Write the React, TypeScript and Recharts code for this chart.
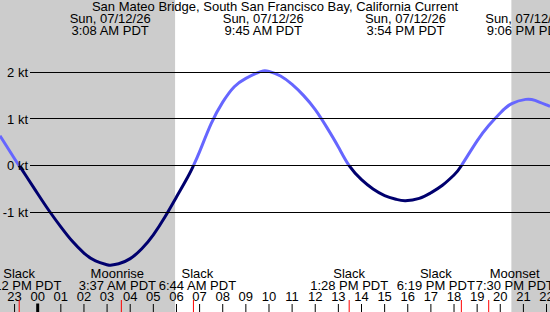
import React from "react";
import { ComposedChart, Line, XAxis, YAxis, ReferenceArea } from "recharts";

// ---- data ----
const curveHours = [
  -1.63, -1, -0.8, -0.5, 0, 0.5, 1, 1.5, 2, 2.5, 3, 3.133, 3.5, 4, 4.5, 5, 5.5, 6, 6.5, 6.733,
  7, 7.5, 8, 8.5, 9, 9.5, 9.75, 10, 10.5, 11, 11.5, 12, 12.5, 13, 13.467,
  14, 14.5, 15, 15.5, 15.9, 16.5, 17, 17.5, 18, 18.317,
  19, 19.5, 20, 20.5, 21.1, 21.5, 22, 22.15,
];
const curveKnots = [
  0.64, 0.15, 0, -0.22, -0.6, -0.97, -1.31, -1.62, -1.87, -2.04, -2.12, -2.13, -2.1, -1.99, -1.78, -1.48, -1.1, -0.67, -0.23, 0,
  0.3, 0.9, 1.36, 1.69, 1.87, 1.99, 2.03, 2.02, 1.92, 1.74, 1.5, 1.2, 0.82, 0.4, 0,
  -0.3, -0.5, -0.64, -0.72, -0.75, -0.7, -0.58, -0.42, -0.2, 0,
  0.53, 0.86, 1.13, 1.33, 1.42, 1.4, 1.3, 1.27,
];

const hourTicks = [-1, 0, 1, 2, 3, 4, 5, 6, 7, 8, 9, 10, 11, 12, 13, 14, 15, 16, 17, 18, 19, 20, 21, 22];
const knotTicks = [2, 1, 0, -1];

const title = "San Mateo Bridge, South San Francisco Bay, California Current";
const maxTimes = [3.133, 9.75, 15.9, 21.1];
const maxDates = ["Sun, 07/12/26", "Sun, 07/12/26", "Sun, 07/12/26", "Sun, 07/12/26"];
const maxLabels = ["3:08 AM PDT", "9:45 AM PDT", "3:54 PM PDT", "9:06 PM PDT"];

const eventTimes = [-0.8, 3.617, 6.733, 13.467, 18.317, 19.5];
const eventNames = ["Slack", "Moonrise", "Slack", "Slack", "Slack", "Moonset"];
const eventLabels = ["11:12 PM PDT", "3:37 AM PDT", "6:44 AM PDT", "1:28 PM PDT", "6:19 PM PDT", "7:30 PM PDT"];

const nightStarts = [-1.63, 20.48];
const nightEnds = [5.94, 22.15];

// ---- layout / style ----
const W = 550;
const H = 312;
const X_DOMAIN: [number, number] = [-1.63, 22.15];
const Y_DOMAIN: [number, number] = [-3.133, 3.548];
const LABEL_NUDGE = [0, -4, 4, 0, -25.5, 26];
const FONT = "'Liberation Sans', Arial, sans-serif";
const FS = 13;
const FLOOD = "#6666ff";
const EBB = "#00006e";

const data = curveHours.map((h, i) => ({ h, v: curveKnots[i] }));
const zeroOffset = Y_DOMAIN[1] / (Y_DOMAIN[1] - Y_DOMAIN[0]);

const pad2 = (n: number) => String(((n % 24) + 24) % 24).padStart(2, "0");

const HourTick = (props: any) => {
  const { x, payload } = props;
  const v = payload.value;
  return (
    <g>
      <line x1={x} x2={x} y1={v === 0 ? 303.5 : 304} y2={312} stroke="#000" strokeWidth={v === 0 ? 3 : 1} />
      <text x={x} y={301} textAnchor="middle" fontFamily={FONT} fontSize={FS} fill="#000">
        {pad2(v)}
      </text>
    </g>
  );
};

const EventTick = (props: any) => {
  const { x, payload } = props;
  const i = eventTimes.indexOf(payload.value);
  const tx = x + (LABEL_NUDGE[i] || 0);
  return (
    <g>
      <line x1={x} x2={x} y1={300} y2={312} stroke="#ff0000" strokeWidth={1} />
      <text x={tx} y={277.5} textAnchor="middle" fontFamily={FONT} fontSize={FS} fill="#000">
        {eventNames[i]}
      </text>
      <text x={tx} y={289.5} textAnchor="middle" fontFamily={FONT} fontSize={FS} fill="#000">
        {eventLabels[i]}
      </text>
    </g>
  );
};

const TopTick = (props: any) => {
  const { x, payload } = props;
  const i = maxTimes.indexOf(payload.value);
  return (
    <g>
      <text x={x} y={22.5} textAnchor="middle" fontFamily={FONT} fontSize={FS} fill="#000">
        {maxDates[i]}
      </text>
      <text x={x} y={34.5} textAnchor="middle" fontFamily={FONT} fontSize={FS} fill="#000">
        {maxLabels[i]}
      </text>
    </g>
  );
};

const KnotTick = (props: any) => {
  const { y, payload } = props;
  const yy = Math.floor(y) + 0.5;
  return (
    <g>
      <line x1={30} x2={W} y1={yy} y2={yy} stroke="#000" strokeWidth={1} />
      <text x={28} y={y} dy={4.6} textAnchor="end" fontFamily={FONT} fontSize={FS} fill="#000">
        {payload.value} kt
      </text>
    </g>
  );
};

export default function App() {
  return (
    <div style={{ position: "absolute", left: 0, top: 0, width: W, height: H, background: "#fff" }}>
      <ComposedChart width={W} height={H} data={data} margin={{ top: -1, right: 0, bottom: -2, left: -1 }}>
        <defs>
          <linearGradient id="curGrad" gradientUnits="userSpaceOnUse" x1={0} y1={0} x2={0} y2={H}>
            <stop offset={zeroOffset} stopColor={FLOOD} />
            <stop offset={zeroOffset} stopColor={EBB} />
          </linearGradient>
        </defs>
        {nightStarts.map((s, i) => (
          <ReferenceArea key={i} xAxisId="main" x1={s} x2={nightEnds[i]} fill="#cccccc" fillOpacity={1} stroke="none" ifOverflow="extendDomain" />
        ))}
        <XAxis
          xAxisId="main"
          dataKey="h"
          type="number"
          domain={X_DOMAIN}
          allowDataOverflow
          ticks={hourTicks}
          interval={0}
          height={1}
          axisLine={false}
          tickLine={false}
          tick={<HourTick />}
        />
        <XAxis
          xAxisId="ev"
          dataKey="h"
          type="number"
          domain={X_DOMAIN}
          allowDataOverflow
          ticks={eventTimes}
          interval={0}
          height={1}
          axisLine={false}
          tickLine={false}
          tick={<EventTick />}
        />
        <XAxis
          xAxisId="top"
          dataKey="h"
          orientation="top"
          type="number"
          domain={X_DOMAIN}
          allowDataOverflow
          ticks={maxTimes}
          interval={0}
          height={1}
          axisLine={false}
          tickLine={false}
          tick={<TopTick />}
        />
        <YAxis
          type="number"
          domain={Y_DOMAIN}
          allowDataOverflow
          ticks={knotTicks}
          interval={0}
          width={1}
          axisLine={false}
          tickLine={false}
          tick={<KnotTick />}
        />
        <Line
          xAxisId="main"
          dataKey="v"
          type="natural"
          stroke="url(#curGrad)"
          strokeWidth={3}
          dot={false}
          activeDot={false}
          isAnimationActive={false}
        />
      </ComposedChart>
      <div
        style={{
          position: "absolute",
          left: 0,
          top: 0,
          width: W,
          textAlign: "center",
          fontFamily: FONT,
          fontSize: FS,
          lineHeight: "13px",
          color: "#000",
        }}
      >
        {title}
      </div>
    </div>
  );
}
